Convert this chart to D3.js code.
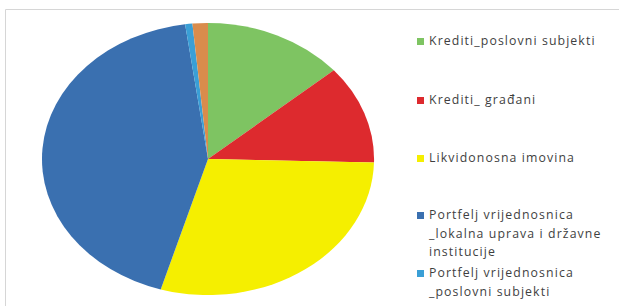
<!DOCTYPE html>
<html>
<head>
<meta charset="utf-8">
<script src="https://cdn.jsdelivr.net/npm/d3@7"></script>
<style>
html,body{margin:0;padding:0;background:#fff;}
svg{display:block;}
</style>
</head>
<body>
<script>
const categories = ["Krediti_poslovni subjekti","Krediti_ građani","Likvidonosna imovina","Portfelj vrijednosnica _lokalna uprava i državne institucije","Portfelj vrijednosnica _poslovni subjekti","Ostalo"];
const values = [13.7, 11.7, 29.2, 43.2, 0.7, 1.5];
const colors = ["#7ec462","#dd2a2e","#f5ef00","#3a70b0","#3a9fd6","#d98c4c"];
const legendLines = [["Krediti_poslovni subjekti"],["Krediti_ građani"],["Likvidonosna imovina"],["Portfelj vrijednosnica","_lokalna uprava i državne","institucije"],["Portfelj vrijednosnica","_poslovni subjekti"]];

const W = 619, H = 306;
const svg = d3.select("body").append("svg").attr("width", W).attr("height", H);

// frame
svg.append("path").attr("d", `M5.5,${H} V9.5 H${W}`).attr("fill","none").attr("stroke","#d6d6d6").attr("stroke-width",1);

const cx = 208, cy = 159, rx = 166, ry = 136;
const pie = d3.pie().sort(null).value(d => d)(values);
const arc = d3.arc().innerRadius(0).outerRadius(1);
const g = svg.append("g").attr("transform", `translate(${cx},${cy}) scale(${rx},${ry})`);
g.selectAll("path").data(pie).enter().append("path")
  .attr("d", arc).attr("fill", (d,i) => colors[i]);

const legendY = [41, 100, 158, 215, 273];
const lg = svg.append("g").attr("font-family","Open Sans, sans-serif").attr("font-size","12.3px").attr("fill","#3f3f3f");
legendLines.forEach((lines, i) => {
  lg.append("rect").attr("x", 417).attr("y", legendY[i]-3).attr("width", 7).attr("height", 7).attr("fill", colors[i]);
  lines.forEach((t, j) => {
    lg.append("text").attr("x", 429).attr("y", legendY[i] + j*18.5).attr("dy","0.35em")
      .attr("letter-spacing","1.1px").text(t);
  });
});
</script>
</body>
</html>
